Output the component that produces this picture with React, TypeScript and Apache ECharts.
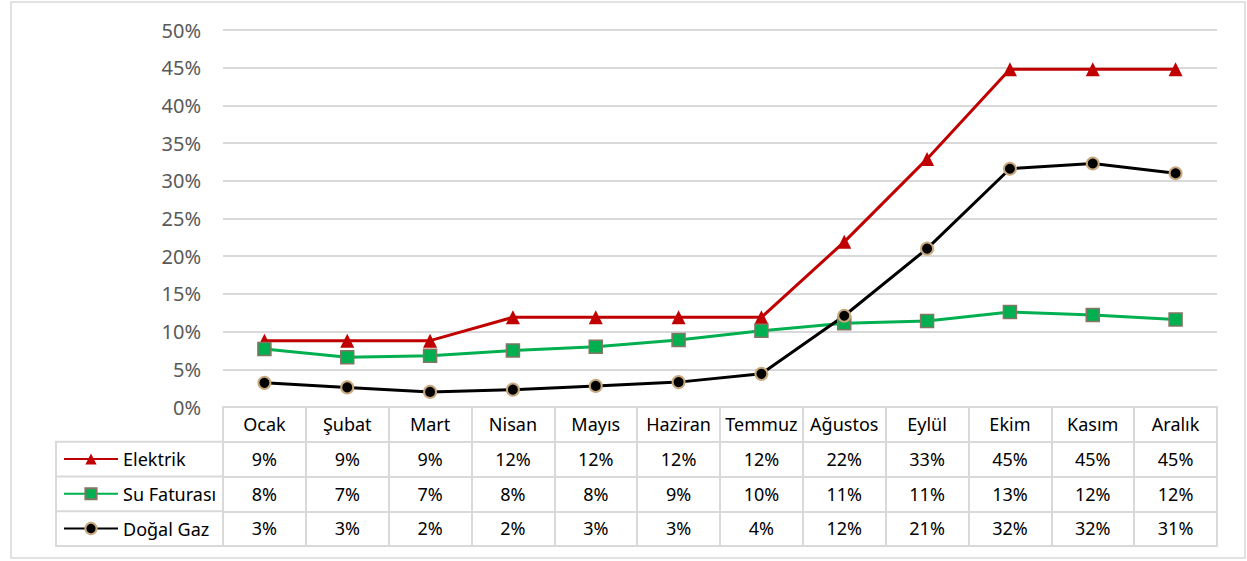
import React, { useEffect, useRef } from "react";
import * as echarts from "echarts";

const months = ["Ocak", "Şubat", "Mart", "Nisan", "Mayıs", "Haziran", "Temmuz", "Ağustos", "Eylül", "Ekim", "Kasım", "Aralık"];
const elektrik = [8.8, 8.8, 8.8, 11.9, 11.9, 11.9, 11.9, 21.9, 32.9, 44.8, 44.8, 44.8];
const suFaturasi = [7.7, 6.6, 6.8, 7.5, 8.0, 8.9, 10.1, 11.1, 11.4, 12.6, 12.2, 11.6];
const dogalGaz = [3.2, 2.6, 2.0, 2.3, 2.8, 3.3, 4.4, 12.1, 21.0, 31.6, 32.3, 31.0];
const seriesNames = ["Elektrik", "Su Faturası", "Doğal Gaz"];
const yTicks = { min: 0, max: 50, interval: 5 };

const FONT = "Noto Sans";
const GRID_GRAY = "#d9d9d9";

export default function App() {
  const ref = useRef<HTMLDivElement>(null);
  useEffect(() => {
    document.body.style.margin = "0";
    const chart = echarts.init(ref.current!, null, { renderer: "svg" });
    const fmt = (arr: number[]) => arr.map((v) => Math.round(v) + "%");
    const rowH = 34.75;
    const lineStyle = { color: GRID_GRAY, width: 2 };
    const rowAxis = (data: string[], offset: number, ticks: boolean, labels: boolean) => ({
      type: "category",
      gridIndex: 0,
      position: "bottom",
      offset,
      data,
      boundaryGap: true,
      axisLine: { show: true, lineStyle },
      axisTick: { show: ticks, interval: 0, length: rowH, lineStyle },
      axisLabel: {
        show: labels,
        interval: 0,
        fontSize: 18,
        lineHeight: 20,
        color: "#000",
        fontFamily: FONT,
        margin: 7,
      },
      splitLine: { show: false },
    });
    chart.setOption({
      animation: false,
      grid: { left: 223, right: 30, top: 30, bottom: 154 },
      legend: {
        data: seriesNames,
        orient: "vertical",
        left: 63,
        top: 449,
        padding: 0,
        itemWidth: 54,
        itemHeight: 14,
        itemGap: 14.75,
        textStyle: { fontSize: 18, lineHeight: 20, color: "#000", fontFamily: FONT },
      },
      xAxis: [
        rowAxis(months, 0, true, true),
        rowAxis(fmt(elektrik), rowH, true, true),
        rowAxis(fmt(suFaturasi), rowH * 2, true, true),
        rowAxis(fmt(dogalGaz), rowH * 3, true, true),
        rowAxis(months.map(() => ""), rowH * 4, false, false),
      ],
      yAxis: {
        type: "value",
        min: yTicks.min,
        max: yTicks.max,
        interval: yTicks.interval,
        axisLine: { show: false },
        axisTick: { show: false },
        axisLabel: {
          formatter: "{value}%",
          fontSize: 20,
          color: "#595959",
          fontFamily: FONT,
          margin: 22,
        },
        splitLine: { lineStyle },
      },
      graphic: [
        {
          type: "rect",
          shape: { x: 11, y: 2, width: 1234, height: 556 },
          style: { fill: "none", stroke: GRID_GRAY, lineWidth: 1.5 },
          silent: true,
        },
        {
          type: "rect",
          shape: { x: 56, y: 407 + rowH, width: 223 - 56, height: rowH * 3 },
          style: { fill: "none", stroke: GRID_GRAY, lineWidth: 2 },
          silent: true,
        },
        {
          type: "line",
          shape: { x1: 56, y1: 407 + rowH * 2, x2: 223, y2: 407 + rowH * 2 },
          style: { stroke: GRID_GRAY, lineWidth: 2 },
          silent: true,
        },
        {
          type: "line",
          shape: { x1: 56, y1: 407 + rowH * 3, x2: 223, y2: 407 + rowH * 3 },
          style: { stroke: GRID_GRAY, lineWidth: 2 },
          silent: true,
        },
      ],
      series: [
        {
          name: seriesNames[0],
          type: "line",
          xAxisIndex: 0,
          data: elektrik,
          symbol: "triangle",
          symbolSize: 14,
          lineStyle: { color: "#c00000", width: 3 },
          itemStyle: { color: "#c00000" },
        },
        {
          name: seriesNames[1],
          type: "line",
          xAxisIndex: 0,
          data: suFaturasi,
          symbol: "rect",
          symbolSize: 13,
          lineStyle: { color: "#00b050", width: 3 },
          itemStyle: { color: "#00b050", borderColor: "#857565", borderWidth: 1.5 },
        },
        {
          name: seriesNames[2],
          type: "line",
          xAxisIndex: 0,
          data: dogalGaz,
          symbol: "circle",
          symbolSize: 12,
          lineStyle: { color: "#000000", width: 3 },
          itemStyle: { color: "#000000", borderColor: "#c8a97e", borderWidth: 2 },
        },
      ],
    });
    return () => chart.dispose();
  }, []);
  return <div ref={ref} style={{ position: "absolute", left: 0, top: 0, width: 1247, height: 561, background: "#fff" }} />;
}
